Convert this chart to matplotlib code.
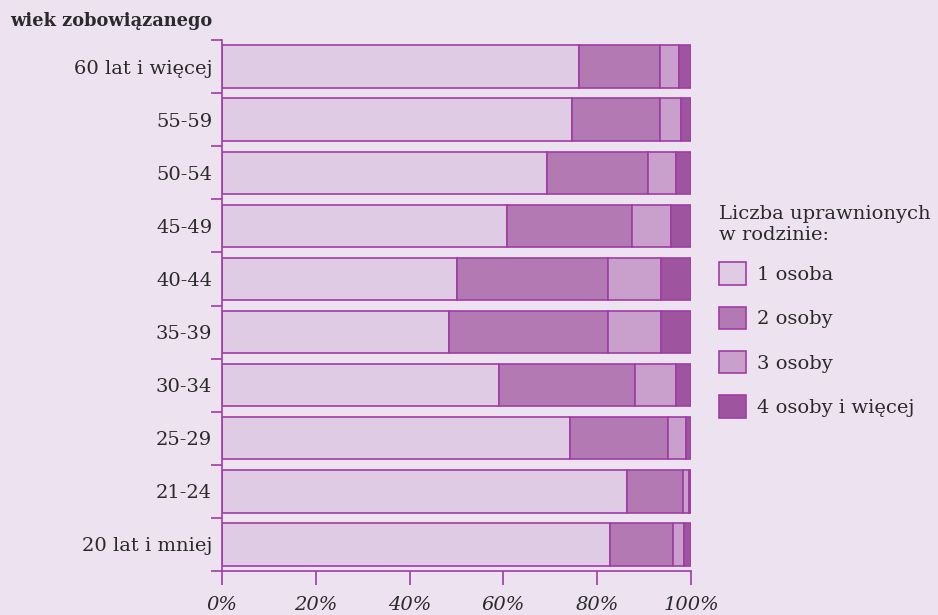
import numpy as np
import matplotlib.pyplot as plt
from matplotlib.ticker import FixedLocator

# age groups, top to bottom as in the chart
groups = ["60 lat i więcej", "55-59", "50-54", "45-49", "40-44",
          "35-39", "30-34", "25-29", "21-24", "20 lat i mniej"]

# share (%) of families by number of entitled persons
one = [76.2, 74.7, 69.2, 60.8, 50.0, 48.5, 59.0, 74.1, 86.3, 82.8]
two = [17.1, 18.6, 21.7, 26.6, 32.4, 33.7, 29.1, 21.1, 11.9, 13.3]
three = [4.2, 4.6, 5.9, 8.4, 11.3, 11.5, 8.7, 3.7, 1.4, 2.5]
four = [2.5, 2.1, 3.2, 4.2, 6.3, 6.3, 3.2, 1.1, 0.4, 1.4]

series_labels = ["1 osoba", "2 osoby", "3 osoby", "4 osoby i więcej"]
colors = ["#dfcbe3", "#b279b3", "#c8a0cb", "#9e549f"]
edge = "#a03ca5"
bg = "#ede2f0"
txt = "#2a2a2a"

plt.rcParams["font.family"] = ["DejaVu Serif"]

fig = plt.figure(figsize=(9.38, 6.15), dpi=100, facecolor=bg)
ax = fig.add_axes([222 / 938, 1 - 571 / 615, (691 - 222) / 938, (571 - 40) / 615])
ax.set_facecolor(bg)

y = np.arange(len(groups))[::-1]
left = np.zeros(len(groups))
for vals, lab, col in zip([one, two, three, four], series_labels, colors):
    vals = np.array(vals)
    ax.barh(y, vals, left=left, height=0.8, color=col, edgecolor=edge,
            linewidth=1.2, label=lab)
    left += vals

ax.set_xlim(0, 100)
ax.set_ylim(-0.5, len(groups) - 0.5)

ax.set_yticks(y)
ax.set_yticklabels(groups, fontsize=14, color=txt)
ax.yaxis.set_minor_locator(FixedLocator(np.arange(-0.5, len(groups), 1.0)))
ax.tick_params(axis="y", which="major", length=0, pad=7)
ax.tick_params(axis="y", which="minor", length=8, width=1.2, color=edge)

ax.set_xticks(np.arange(0, 101, 20))
ax.set_xticklabels([f"{v}%" for v in range(0, 101, 20)], fontsize=14,
                   style="italic", color=txt)
ax.tick_params(axis="x", length=10, width=1.2, color=edge, pad=8)

for s in ["top", "right"]:
    ax.spines[s].set_visible(False)
for s in ["left", "bottom"]:
    ax.spines[s].set_color(edge)
    ax.spines[s].set_linewidth(1.2)

fig.text(10 / 938, 1 - 21 / 615, "wiek zobowiązanego", fontsize=12.8,
         fontweight="bold", color=txt, va="center", ha="left")

leg = ax.legend(loc="upper left", bbox_to_anchor=(701 / 938, 1 - 188 / 615),
                bbox_transform=fig.transFigure, frameon=False,
                title="Liczba uprawnionych\nw rodzinie:", fontsize=14,
                title_fontsize=14, handlelength=1.4, handleheight=1.4,
                labelspacing=1.12, handletextpad=0.6, alignment="left")
leg._legend_box.sep = 13
for t in leg.get_texts():
    t.set_color(txt)
leg.get_title().set_color(txt)

fig.savefig("out.png", dpi=100, facecolor=bg)
